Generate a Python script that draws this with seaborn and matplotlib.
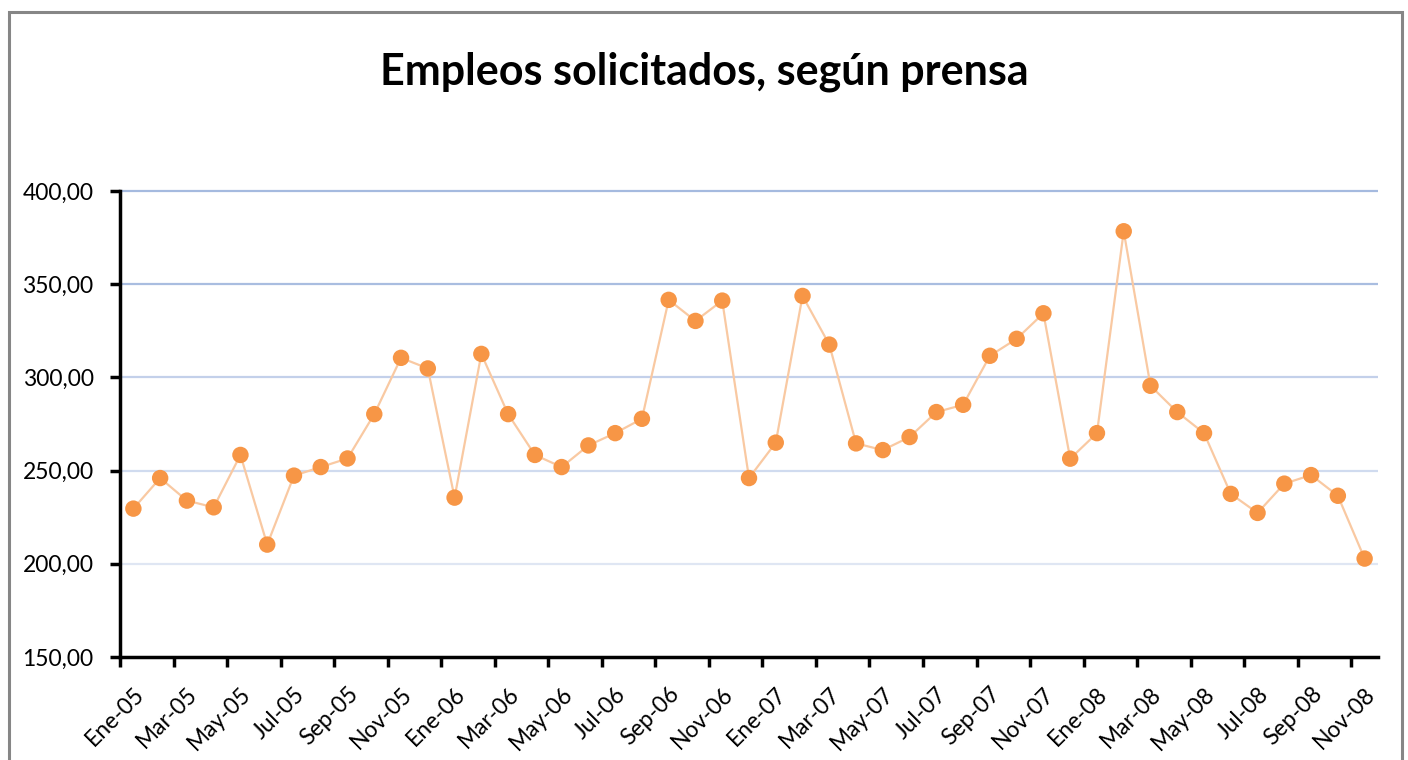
import numpy as np
import pandas as pd
import matplotlib
matplotlib.use("Agg")
import matplotlib.pyplot as plt
from matplotlib.patches import Rectangle
from matplotlib.ticker import FixedLocator, FuncFormatter
import seaborn as sns

# ── data ──────────────────────────────────────────────────
MONTHS = ["Ene", "Feb", "Mar", "Abr", "May", "Jun",
          "Jul", "Ago", "Sep", "Oct", "Nov", "Dic"]
YEARS = ["05", "06", "07", "08"]
N_MONTHS = 47  # Ene-05 .. Nov-08

categories = [f"{MONTHS[i % 12]}-{YEARS[i // 12]}" for i in range(N_MONTHS)]

empleos = [229.6, 246.0, 233.9, 230.3, 258.4, 210.3, 247.3, 251.9, 256.5, 280.3,
           310.5, 304.8, 235.5, 312.6, 280.3, 258.4, 251.9, 263.5, 270.1, 277.8,
           341.6, 330.3, 341.2, 246.0, 265.0, 343.7, 317.6, 264.6, 261.0, 268.0,
           281.4, 285.3, 311.6, 320.7, 334.4, 256.4, 270.1, 378.4, 295.5, 281.4,
           270.1, 237.5, 227.3, 243.0, 247.6, 236.5, 202.8]

y_ticks = [150, 200, 250, 300, 350, 400]
grid_ticks = [200, 250, 300, 350, 400]
grid_colors = ["#dfe6f3", "#d0dbef", "#c3d0ea", "#a9bde0", "#a5badf"]

df = pd.DataFrame({"pos": np.arange(len(categories)), "mes": categories, "valor": empleos})

# ── style ─────────────────────────────────────────────────
sns.set_theme(style="white")
plt.rcParams["font.family"] = ["Lato", "DejaVu Sans"]

LINE_COLOR = "#f9c9a2"
MARKER_COLOR = "#f79646"

fig = plt.figure(figsize=(14.08, 7.6), dpi=100, facecolor="white")
ax = fig.add_axes([120 / 1408, 1 - 657 / 760, (1378 - 120) / 1408, (657 - 191) / 760])

# horizontal gridlines, fading towards the bottom like the original
ax.hlines(grid_ticks, 0, 1, transform=ax.get_yaxis_transform(),
          colors=grid_colors, linewidth=1.6, zorder=0, clip_on=False)

sns.lineplot(data=df, x="pos", y="valor", color=LINE_COLOR, linewidth=1.6, ax=ax, zorder=2)
sns.scatterplot(data=df, x="pos", y="valor", color=MARKER_COLOR, s=140,
                edgecolor="none", ax=ax, zorder=3)

ax.set_xlim(-0.5, len(categories) - 0.5)
ax.set_ylim(150, 400)
ax.set_xlabel("")
ax.set_ylabel("")
ax.grid(False)

# y axis
ax.yaxis.set_major_locator(FixedLocator(y_ticks))
ax.yaxis.set_major_formatter(FuncFormatter(lambda v, _: f"{v:.2f}".replace(".", ",")))

# x axis: labels on every other category, tick marks between categories
label_pos = df["pos"].values[::2]
ax.xaxis.set_major_locator(FixedLocator(label_pos))
ax.set_xticklabels(df["mes"].values[::2])
ax.xaxis.set_minor_locator(FixedLocator(np.arange(-0.5, len(categories) - 1, 2)))

ax.tick_params(axis="x", which="major", length=0, pad=19, labelsize=16.5, labelcolor="black")
ax.tick_params(axis="x", which="minor", length=7, width=2.5, color="black", direction="out", bottom=True)
ax.tick_params(axis="y", length=7, width=2.5, color="black", direction="out", left=True,
               labelsize=16.5, labelcolor="black", pad=12)
for lbl in ax.get_xticklabels():
    lbl.set_rotation(45)
    lbl.set_ha("right")
    lbl.set_va("top")
    lbl.set_rotation_mode("anchor")

for side in ["top", "right"]:
    ax.spines[side].set_visible(False)
for side in ["left", "bottom"]:
    ax.spines[side].set_color("black")
    ax.spines[side].set_linewidth(2.5)

fig.text(0.5, 1 - 72 / 760, "Empleos solicitados, según prensa", ha="center", va="center",
         fontsize=31, fontweight="bold", color="black")

# chart frame
fig.patches.append(Rectangle((8.5 / 1408, -0.05), (1402 - 8.5) / 1408, 1.05 - 12 / 760,
                             transform=fig.transFigure, fill=False,
                             edgecolor="#868686", linewidth=2.2, zorder=10))

fig.savefig("out.png", dpi=100, facecolor="white")
plt.close("all")
